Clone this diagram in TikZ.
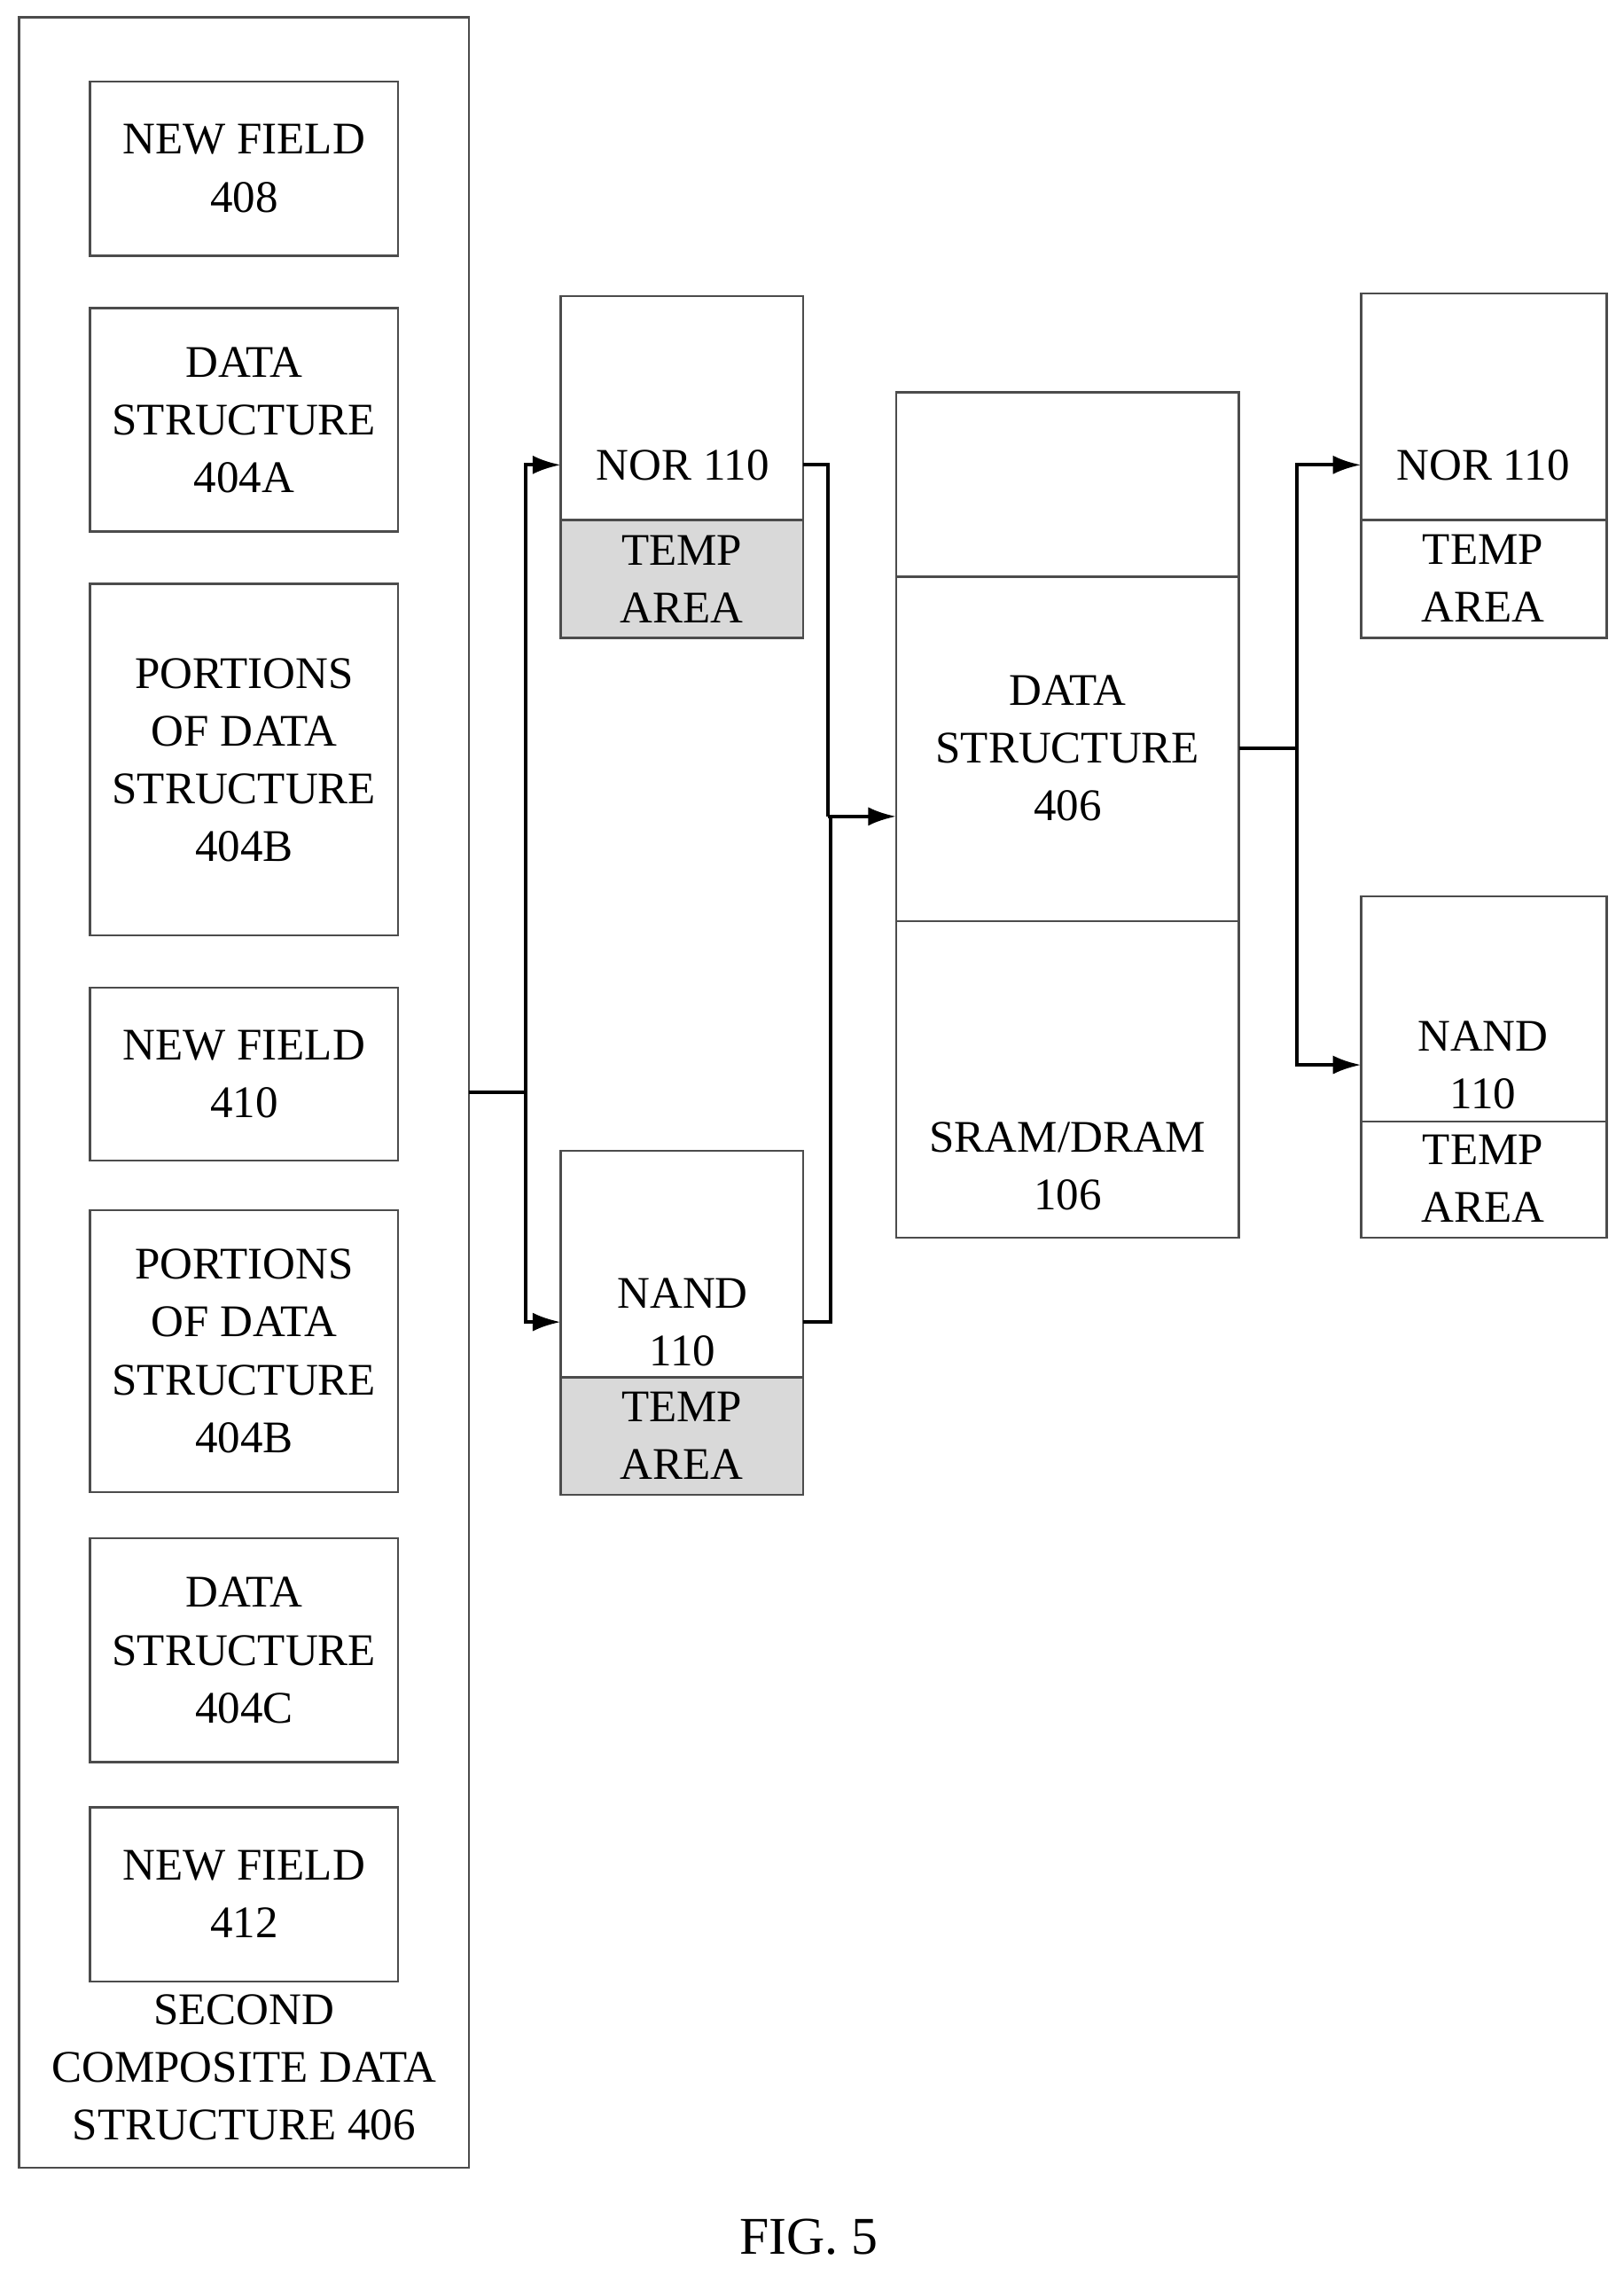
\documentclass[tikz,border=0pt]{standalone}
\usepackage{fontspec}
\setmainfont{Liberation Serif}
\usetikzlibrary{arrows.meta}
\begin{document}
\begin{tikzpicture}[x=0.01638cm,y=-0.01638cm,
    box/.style={draw=black!70,line width=0.7pt},
    temp/.style={box,fill=black!15},
    lbl/.style={font=\fontsize{14.5}{18.5}\selectfont,align=center,inner sep=0pt},
    wire/.style={line width=1.2pt},
    arr/.style={wire,-{Latex[length=9pt,width=6pt]}}]
  \useasboundingbox (0,0) rectangle (1118,1566);

  % left composite structure
  \draw[box] (13,12) rectangle (323,1492);
  \coordinate (outR) at (323,752);
  \foreach \ya/\yb/\txt in {56/176/{NEW FIELD\\408},212/366/{DATA\\STRUCTURE\\404A},
      402/644/{PORTIONS\\OF DATA\\STRUCTURE\\404B},680/799/{NEW FIELD\\410},
      833/1027/{PORTIONS\\OF DATA\\STRUCTURE\\404B},1059/1213/{DATA\\STRUCTURE\\404C},
      1244/1364/{NEW FIELD\\412}}
    \draw[box] (62,\ya) rectangle (274,\yb) node[lbl,midway] {\txt};
  \node[lbl] (comp) at (168,1423) {SECOND\\COMPOSITE DATA\\STRUCTURE 406};

  % NOR / NAND
  \draw[box] (386,204) rectangle (553,358);
  \draw[temp] (386,358) rectangle (553,439) node[lbl,midway] {TEMP\\AREA};
  \node[lbl] (nor) at (470,320) {NOR 110};
  \draw[box] (386,792) rectangle (553,948);
  \draw[temp] (386,948) rectangle (553,1029) node[lbl,midway] {TEMP\\AREA};
  \node[lbl] (nand) at (470,910) {NAND\\110};

  % memory
  \draw[box] (617,270) rectangle (853,852);
  \draw[box] (617,397) -- (853,397) (617,634) -- (853,634);
  \node[lbl] (ds) at (735,515) {DATA\\STRUCTURE\\406};
  \node[lbl] (sram) at (735,803) {SRAM/DRAM\\106};

  % right targets
  \draw[box] (937,202) rectangle (1106,439);
  \draw[box] (937,358) -- (1106,358);
  \node[lbl] (nor2) at (1021,320) {NOR 110};
  \node[lbl] (t2) at (1021,398) {TEMP\\AREA};
  \draw[box] (937,617) rectangle (1106,852);
  \draw[box] (937,772) -- (1106,772);
  \node[lbl] (nand2) at (1021,733) {NAND\\110};
  \node[lbl] (t3) at (1021,811) {TEMP\\AREA};

  % connectors
  \coordinate (norL) at (386,320);
  \coordinate (nandL) at (386,910);
  \coordinate (norR) at (553,320);
  \coordinate (nandR) at (553,910);
  \coordinate (memL) at (617,562);
  \coordinate (memR) at (853,515);
  \coordinate (rNor) at (937,320);
  \coordinate (rNand) at (937,733);
  \draw[wire] (outR) -- (362,752);
  \draw[arr] (362,752) |- (norL);
  \draw[arr] (362,752) |- (nandL);
  \draw[wire] (norR) -| (570,562);
  \draw[wire] (nandR) -| (572,562);
  \draw[arr] (570,562) -- (memL);
  \draw[wire] (memR) -- (893,515);
  \draw[arr] (893,515) |- (rNor);
  \draw[arr] (893,515) |- (rNand);

  \node[font=\fontsize{17}{20}\selectfont] (fig) at (557,1540) {FIG. 5};
\end{tikzpicture}
\end{document}
